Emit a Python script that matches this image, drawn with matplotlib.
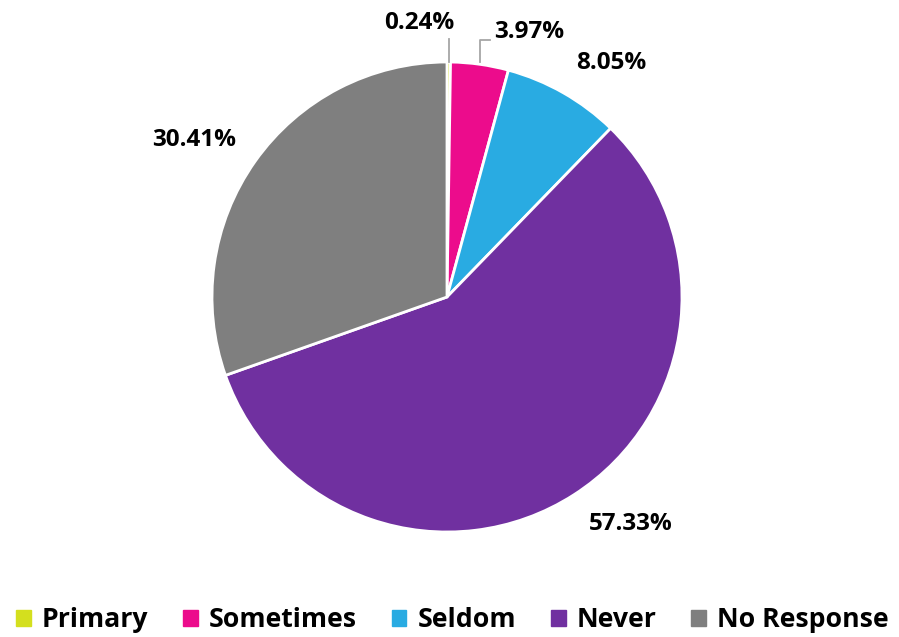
import matplotlib
matplotlib.use("Agg")
import matplotlib.pyplot as plt
import numpy as np

categories = ["Primary", "Sometimes", "Seldom", "Never", "No Response"]
values = [0.24, 3.97, 8.05, 57.33, 30.41]
labels = ["0.24%", "3.97%", "8.05%", "57.33%", "30.41%"]
colors = ["#d4df1e", "#ec0c8c", "#29abe2", "#7030a0", "#7f7f7f"]

plt.rcParams['font.family'] = ['Open Sans', 'DejaVu Sans']

fig = plt.figure(figsize=(8.99, 6.37), dpi=100)
W, H = 899, 637
cx, cy, R = 447, 297, 235
half = 300
ax = fig.add_axes([(cx - half) / W, (H - cy - half) / H, 2 * half / W, 2 * half / H])
wedges, _ = ax.pie(values, colors=colors, startangle=90, counterclock=False,
                   radius=1.0, wedgeprops=dict(edgecolor="white", linewidth=2))
lim = half / R
ax.set_xlim(-lim, lim)
ax.set_ylim(-lim, lim)
ax.axis("off")

# label positions (in units of radius)
label_pos = [(-0.119, 1.166), (0.349, 1.128), (0.698, 0.996), (0.783, -0.966), (-1.077, 0.668)]
for i, (lab, (x, y)) in enumerate(zip(labels, label_pos)):
    ax.text(x, y, lab, ha="center", va="center", fontsize=17.5, fontweight="bold", color="black")

# leader lines for small slices
ax.plot([0.009, 0.009], [1.0, 1.098], color="#a6a6a6", lw=1.3, clip_on=False)
ax.plot([0.140, 0.140, 0.183], [1.0, 1.094, 1.094], color="#a6a6a6", lw=1.3, clip_on=False)

handles = [plt.Rectangle((0, 0), 1, 1, color=c) for c in colors]
fig.legend(handles, categories, loc="center", bbox_to_anchor=(452.5 / W, 1 - 620 / H), ncol=5,
           frameon=False, prop=dict(size=19.2, weight="bold"), handlelength=0.55, handleheight=0.55,
           handletextpad=0.42, columnspacing=1.3, borderpad=0, borderaxespad=0)

fig.savefig("out.png", dpi=100)
